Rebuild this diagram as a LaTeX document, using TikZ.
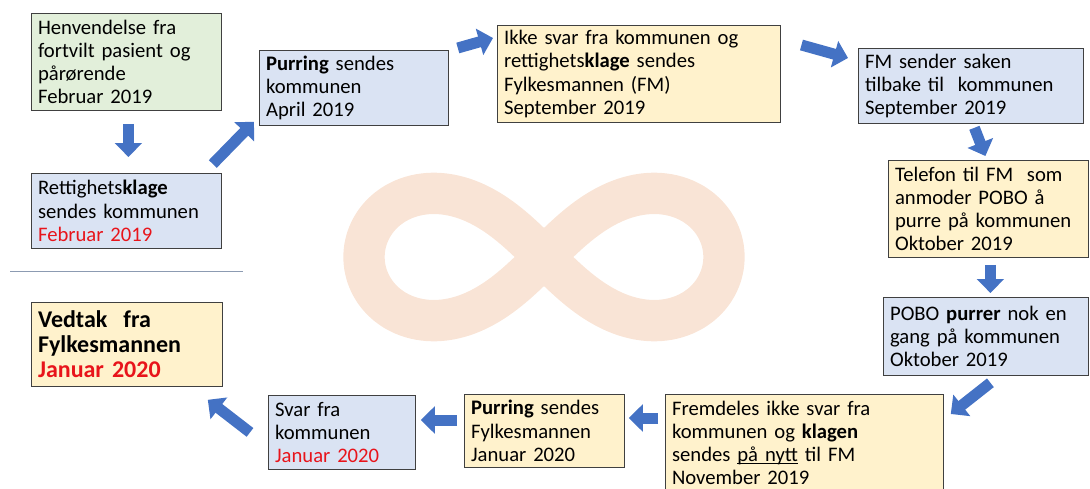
\documentclass[tikz,border=0pt]{standalone}
\usepackage{fontspec}
\setmainfont{Carlito}
\usetikzlibrary{arrows.meta}
\definecolor{boxgreen}{HTML}{E2EFDA}
\definecolor{boxblue}{HTML}{DAE3F3}
\definecolor{boxyellow}{HTML}{FFF2CC}
\definecolor{arrowblue}{HTML}{4472C4}
\definecolor{infpeach}{HTML}{F9E4D6}
\definecolor{datered}{HTML}{E8141B}
\definecolor{rulegray}{HTML}{8C9BB2}
\newcommand\lowline[1]{\underline{\smash{#1}}}
\begin{document}
\begin{tikzpicture}[x=0.75pt,y=-0.75pt,
  box/.style={draw=black!75,line width=0.6pt,anchor=north west,align=left,
    inner xsep=5pt,inner ysep=3pt,font=\fontsize{15.5}{17.4}\selectfont},
  greenbox/.style={box,fill=boxgreen},
  bluebox/.style={box,fill=boxblue},
  yellowbox/.style={box,fill=boxyellow},
  flow/.style={draw=arrowblue,line width=8.25pt,-{Triangle[length=10.5pt,width=20pt]}}]
  \useasboundingbox (0,0) rectangle (1090,489);
  % infinity sign in the background
  \draw[infpeach,line width=31pt] plot[variable=\t,domain=0:357,samples=120,smooth cycle]
    ({544+180*cos(\t)/(1+sin(\t)^2)},{257+180*sin(\t)*cos(\t)/(1+sin(\t)^2)});
  \draw[rulegray,line width=0.6pt] (10,271) -- (243,271);

  \node[greenbox,text width=132.5pt,minimum height=72.75pt] (henv) at (31,13)
    {Henvendelse fra\\fortvilt pasient og\\pårørende\\Februar 2019};
  \node[bluebox,text width=132.5pt,minimum height=56.25pt] (rett) at (31,173)
    {Rettighets\textbf{klage}\\sendes kommunen\\\textcolor{datered}{Februar 2019}};
  \node[bluebox,text width=131.75pt,minimum height=56.25pt] (purr1) at (259,50)
    {\textbf{Purring} sendes\\kommunen\\April 2019};
  \node[yellowbox,text width=202pt,minimum height=72.75pt] (ikke) at (497,25)
    {Ikke svar fra kommunen og\\rettighets\textbf{klage} sendes\\Fylkesmannen (FM)\\September 2019};
  \node[bluebox,text width=158.75pt,minimum height=56.25pt] (fm) at (858,48)
    {FM sender saken\\tilbake til~ kommunen\\September 2019};
  \node[yellowbox,text width=140pt,minimum height=72.75pt] (tlf) at (888,160)
    {Telefon til FM~ som\\anmoder POBO å\\purre på kommunen\\Oktober 2019};
  \node[bluebox,text width=143.75pt,minimum height=58.5pt] (pobo) at (883,297)
    {POBO \textbf{purrer} nok en\\gang på kommunen\\Oktober 2019};
  \node[yellowbox,text width=198.5pt,minimum height=72.75pt] (frem) at (665,394)
    {Fremdeles ikke svar fra\\kommunen og \textbf{klagen}\\sendes \lowline{på nytt} til FM\\November 2019};
  \node[yellowbox,text width=110pt,minimum height=54.75pt] (purr2) at (464,394)
    {\textbf{Purring} sendes\\Fylkesmannen\\Januar 2020};
  \node[bluebox,text width=100.25pt,minimum height=55.5pt] (svar) at (268,395)
    {Svar fra\\kommunen\\\textcolor{datered}{Januar 2020}};
  \node[yellowbox,text width=133.25pt,minimum height=63pt,
    font=\fontsize{18}{18.6}\selectfont\bfseries] (vedt) at (31,302)
    {Vedtak~ fra\\Fylkesmannen\\\textcolor{datered}{Januar 2020}};

  \draw[flow] ([shift={(2,13)}]henv.south) -- ([shift={(2,-16)}]rett.north);
  \draw[flow] ([shift={(-9,-9)}]rett.north east) -- ([shift={(-5,-4)}]purr1.south west);
  \draw[flow] ([shift={(9,-2)}]purr1.north east) -- ([shift={(-4,13)}]ikke.north west);
  \draw[flow] ([shift={(21,20)}]ikke.north east) -- ([shift={(-10,10)}]fm.north west);
  \draw[flow] ([shift={(3.5,4)}]fm.south) -- ([shift={(-3,-4)}]tlf.north);
  \draw[flow] ([shift={(2,7)}]tlf.south) -- ([shift={(4.5,-4)}]pobo.north);
  \draw[flow] ([shift={(4.5,7)}]pobo.south) -- ([shift={(7,20)}]frem.north east);
  \draw[flow] ([shift={(-7,24)}]frem.north west) -- ([shift={(4,24)}]purr2.north east);
  \draw[flow] ([shift={(-7,26)}]purr2.north west) -- ([shift={(5,25)}]svar.north east);
  \draw[flow] ([shift={(-18,0)}]svar.west) -- ([shift={(-15,13)}]vedt.south east);
\end{tikzpicture}
\end{document}
